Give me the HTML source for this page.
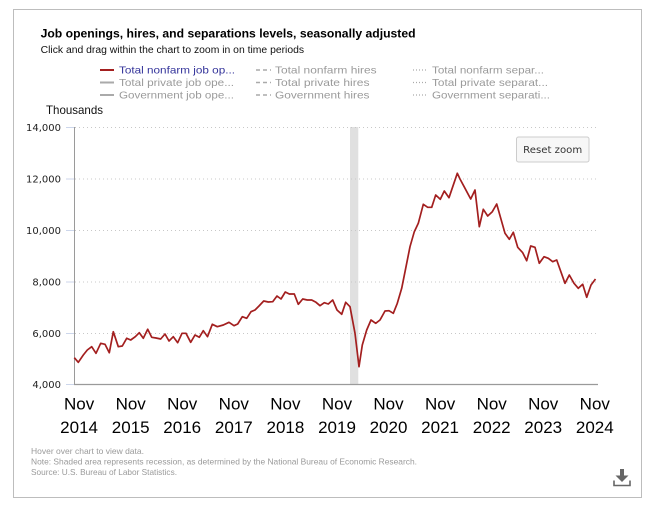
<!DOCTYPE html>
<html>
<head>
<meta charset="utf-8">
<style>
  html, body { margin: 0; padding: 0; background: #ffffff; }
  svg { display: block; }
  text { font-family: "Liberation Sans", Arial, sans-serif; }
  .dv { font-family: "DejaVu Sans", Verdana, sans-serif; }
</style>
</head>
<body>
<svg width="656" height="508" viewBox="0 0 656 508" xmlns="http://www.w3.org/2000/svg">
  <rect x="0" y="0" width="656" height="508" fill="#ffffff"/>
  <!-- outer border -->
  <rect x="13.5" y="9.5" width="628" height="488" fill="#ffffff" stroke="#bdbdbd" stroke-width="1"/>

  <!-- title & subtitle -->
  <text x="40.6" y="37.5" font-size="12" font-weight="bold" fill="#000" textLength="375" lengthAdjust="spacingAndGlyphs">Job openings, hires, and separations levels, seasonally adjusted</text>
  <text x="40.6" y="53" font-size="10" fill="#111" textLength="263.5" lengthAdjust="spacingAndGlyphs">Click and drag within the chart to zoom in on time periods</text>

  <!-- legend -->
  <g>
    <line x1="100" y1="70" x2="114" y2="70" stroke="#a31f1f" stroke-width="2"/>
    <line x1="100" y1="82.5" x2="114" y2="82.5" stroke="#aaaaaa" stroke-width="2"/>
    <line x1="100" y1="95" x2="114" y2="95" stroke="#aaaaaa" stroke-width="2"/>
    <text x="119" y="73.7" font-size="10.5" fill="#33339a" textLength="116" lengthAdjust="spacingAndGlyphs">Total nonfarm job op...</text>
    <text x="119" y="86.2" font-size="10.5" fill="#9a9a9a" textLength="115" lengthAdjust="spacingAndGlyphs">Total private job ope...</text>
    <text x="119" y="98.7" font-size="10.5" fill="#9a9a9a" textLength="115" lengthAdjust="spacingAndGlyphs">Government job ope...</text>

    <line x1="256" y1="70" x2="271" y2="70" stroke="#aaaaaa" stroke-width="1.5" stroke-dasharray="4,3"/>
    <line x1="256" y1="82.5" x2="271" y2="82.5" stroke="#aaaaaa" stroke-width="1.5" stroke-dasharray="4,3"/>
    <line x1="256" y1="95" x2="271" y2="95" stroke="#aaaaaa" stroke-width="1.5" stroke-dasharray="4,3"/>
    <text x="275" y="73.7" font-size="10.5" fill="#9a9a9a" textLength="101.6" lengthAdjust="spacingAndGlyphs">Total nonfarm hires</text>
    <text x="275" y="86.2" font-size="10.5" fill="#9a9a9a" textLength="94.5" lengthAdjust="spacingAndGlyphs">Total private hires</text>
    <text x="275" y="98.7" font-size="10.5" fill="#9a9a9a" textLength="94.5" lengthAdjust="spacingAndGlyphs">Government hires</text>

    <line x1="413" y1="70" x2="428" y2="70" stroke="#aaaaaa" stroke-width="1.2" stroke-dasharray="1,2"/>
    <line x1="413" y1="82.5" x2="428" y2="82.5" stroke="#aaaaaa" stroke-width="1.2" stroke-dasharray="1,2"/>
    <line x1="413" y1="95" x2="428" y2="95" stroke="#aaaaaa" stroke-width="1.2" stroke-dasharray="1,2"/>
    <text x="432" y="73.7" font-size="10.5" fill="#9a9a9a" textLength="112" lengthAdjust="spacingAndGlyphs">Total nonfarm separ...</text>
    <text x="432" y="86.2" font-size="10.5" fill="#9a9a9a" textLength="116" lengthAdjust="spacingAndGlyphs">Total private separat...</text>
    <text x="432" y="98.7" font-size="10.5" fill="#9a9a9a" textLength="118" lengthAdjust="spacingAndGlyphs">Government separati...</text>
  </g>

  <!-- y-axis title -->
  <text x="46" y="114" font-size="12" fill="#111" textLength="57" lengthAdjust="spacingAndGlyphs">Thousands</text>

  <!-- recession band -->
  <rect x="350" y="127" width="8.3" height="257.5" fill="#e0e0e0"/>

  <!-- gridlines -->
  <g stroke="#c8c8c8" stroke-width="1" stroke-dasharray="1,3">
    <line x1="75" y1="127.5" x2="597" y2="127.5"/>
    <line x1="75" y1="179" x2="597" y2="179"/>
    <line x1="75" y1="230.5" x2="597" y2="230.5"/>
    <line x1="75" y1="282" x2="597" y2="282"/>
    <line x1="75" y1="333.5" x2="597" y2="333.5"/>
  </g>

  <!-- tick marks -->
  <g stroke="#ccd6eb" stroke-width="1">
    <line x1="66" y1="127.5" x2="74" y2="127.5"/>
    <line x1="66" y1="179" x2="74" y2="179"/>
    <line x1="66" y1="230.5" x2="74" y2="230.5"/>
    <line x1="66" y1="282" x2="74" y2="282"/>
    <line x1="66" y1="333.5" x2="74" y2="333.5"/>
    <line x1="66" y1="384.5" x2="74" y2="384.5"/>
  </g>

  <!-- axes -->
  <line x1="74.5" y1="127" x2="74.5" y2="385" stroke="#9a9a9a" stroke-width="1"/>
  <line x1="74" y1="384.5" x2="598" y2="384.5" stroke="#9a9a9a" stroke-width="1.2"/>

  <!-- y labels -->
  <g class="dv" font-size="10" fill="#222" text-anchor="end">
    <text class="dv" x="61" y="131.2">14,000</text>
    <text class="dv" x="61" y="182.7">12,000</text>
    <text class="dv" x="61" y="234.2">10,000</text>
    <text class="dv" x="61" y="285.7">8,000</text>
    <text class="dv" x="61" y="337.2">6,000</text>
    <text class="dv" x="61" y="388.2">4,000</text>
  </g>

  <!-- x labels -->
  <g font-size="17" fill="#000" text-anchor="middle">
    <text x="79.1" y="409.5">Nov</text><text x="79.1" y="433">2014</text>
    <text x="130.7" y="409.5">Nov</text><text x="130.7" y="433">2015</text>
    <text x="182.2" y="409.5">Nov</text><text x="182.2" y="433">2016</text>
    <text x="233.8" y="409.5">Nov</text><text x="233.8" y="433">2017</text>
    <text x="285.4" y="409.5">Nov</text><text x="285.4" y="433">2018</text>
    <text x="337" y="409.5">Nov</text><text x="337" y="433">2019</text>
    <text x="388.5" y="409.5">Nov</text><text x="388.5" y="433">2020</text>
    <text x="440.1" y="409.5">Nov</text><text x="440.1" y="433">2021</text>
    <text x="491.7" y="409.5">Nov</text><text x="491.7" y="433">2022</text>
    <text x="543.2" y="409.5">Nov</text><text x="543.2" y="433">2023</text>
    <text x="594.8" y="409.5">Nov</text><text x="594.8" y="433">2024</text>
  </g>

  <!-- data series -->
  <polyline fill="none" stroke="#a31f1f" stroke-width="1.7" stroke-linejoin="round" points="
74.3,357.7 78.3,362.3 83.3,355 87.3,350 91.7,346.7 96,353.3 100.7,343.3 105,344.3 109.3,352.7 113.3,331.7
118.3,346.7 122.3,346 126.7,338.3 130.7,340 135.3,336.7 139.3,332.7 143.3,338.3 147.7,329.3 151.7,337.3 156,338
160.7,339 165,334 169,341 173.3,336.7 177.7,342.7 182,333.3 186,333.3 190.7,342.3 195,335 199.3,337.3
203.3,330.7 207.5,336.7 212.3,324.3 217.3,326.7 223.3,325 229,322.3 234,325.7 237.7,324 242.3,316.7 246.7,318.3
251,311.7 255,310 259,306 263.7,301 268.3,302 272.7,301.7 277,296 281,299 285.3,292 289.3,294
294.3,294 298.3,304.3 302.7,299 307.3,300 311.7,300 316,302.3 320,305.7 324.3,302.7 328.3,304 332.7,300
337,310 341.7,314.3 345.7,302.3 350,306.7 355,333.3 359,366.7 362.3,345 366.7,330 371,320 375.7,323.3
380,320 385,311 389,310.7 393.3,313.3 397.3,303.3 401.7,288.3 405.7,268.3 410,246.7 414.3,231.7 418.3,223.3
423.3,204.3 427.7,207.3 431.7,207.3 435.7,195 440.3,199.3 444.3,191 449,197.7 457.3,173.3 460,179 465,188.3
470.7,199 475,190 479.3,226.7 483.3,209.3 487.7,216 492.3,211.7 496.7,204 505,233.3 509.3,239.3 513.3,232.3
517.7,247.3 522.7,252.7 526.7,260.7 530.7,246 535,247.3 539.3,263.3 544,256.7 548.3,258.3 552.7,261.7 556.7,260
565,283.3 569.3,275 574,283.3 578.3,288.3 582.7,284.3 586.7,297.3 591,285 595.5,279"/>

  <!-- reset zoom button -->
  <rect x="516.5" y="137" width="72.5" height="25" rx="2" ry="2" fill="#f7f7f7" stroke="#cccccc" stroke-width="1"/>
  <text class="dv" x="552.7" y="153" font-size="10" fill="#333" text-anchor="middle" textLength="59" lengthAdjust="spacingAndGlyphs">Reset zoom</text>

  <!-- footer -->
  <g font-size="8.5" fill="#9a9a9a">
    <text x="31" y="454" textLength="113" lengthAdjust="spacingAndGlyphs">Hover over chart to view data.</text>
    <text x="31" y="464.5" textLength="386" lengthAdjust="spacingAndGlyphs">Note: Shaded area represents recession, as determined by the National Bureau of Economic Research.</text>
    <text x="31" y="475" textLength="146" lengthAdjust="spacingAndGlyphs">Source: U.S. Bureau of Labor Statistics.</text>
  </g>

  <!-- download icon -->
  <g fill="#666" stroke="none">
    <rect x="620" y="469" width="4" height="7"/>
    <polygon points="615.5,475.5 628.5,475.5 622,482"/>
  </g>
  <path d="M614,480.5 V485.5 H630 V480.5" fill="none" stroke="#666" stroke-width="1.6"/>
</svg>
</body>
</html>
